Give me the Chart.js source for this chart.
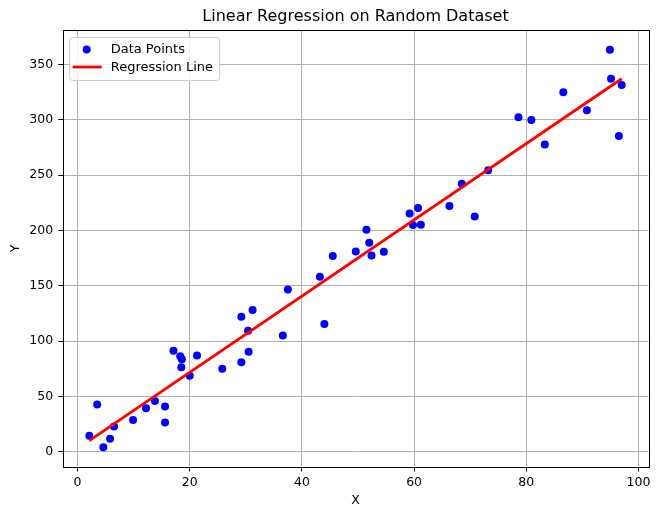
<!DOCTYPE html>
<html>
<head>
<meta charset="utf-8">
<script src="https://cdn.jsdelivr.net/npm/chart.js@4.4.1/dist/chart.umd.min.js"></script>
<style>
  html, body { margin: 0; padding: 0; background: #fff; }
  #wrap { width: 660px; height: 517px; }
</style>
</head>
<body>
<div id="wrap"><canvas id="chart"></canvas></div>
<script>
// values
const xs = [
  2.1, 3.5, 4.6, 5.8, 6.5, 9.9, 12.2, 13.8, 15.6, 15.6,
  17.1, 18.3, 18.6, 18.5, 20.0, 21.3, 25.8, 29.2, 30.5, 30.4,
  29.2, 31.2, 36.6, 37.5, 44.0, 43.2, 45.5, 49.6, 51.5, 52.0,
  52.4, 54.6, 59.2, 60.7, 59.8, 61.2, 66.3, 70.8, 68.5, 73.2,
  78.6, 80.9, 83.3, 86.6, 90.8, 94.9, 95.1, 97.0, 96.5,
];
const ys = [
  14.5, 42.8, 4.3, 11.8, 22.9, 28.9, 39.5, 46.1, 41.0, 26.5,
  91.3, 86.4, 83.7, 76.4, 68.7, 87.1, 75.1, 81.1, 90.4, 109.4,
  122.1, 128.2, 105.2, 146.8, 115.5, 158.3, 177.0, 181.2, 200.8, 189.0,
  177.5, 180.9, 215.5, 220.4, 205.0, 205.3, 222.2, 212.8, 242.4, 254.4,
  302.3, 300.0, 277.7, 325.0, 308.7, 363.3, 337.1, 331.6, 285.5,
];
const xTickStep = 20;
const yTickStep = 50;
const seriesLabels = ['Data Points', 'Regression Line'];
const chartTitle = 'Linear Regression on Random Dataset';

const points = xs.map((x, i) => ({ x: x, y: ys[i] }));

// least squares fit, drawn from min x to max x
const n = xs.length;
const mx = xs.reduce((a, b) => a + b, 0) / n;
const my = ys.reduce((a, b) => a + b, 0) / n;
let sxy = 0, sxx = 0;
for (let i = 0; i < n; i++) {
  sxy += (xs[i] - mx) * (ys[i] - my);
  sxx += (xs[i] - mx) * (xs[i] - mx);
}
const slope = sxy / sxx;
const icpt = my - slope * mx;
const xLo = Math.min(...xs), xHi = Math.max(...xs);
const fitLine = [xLo, xHi].map((x) => ({ x: x, y: icpt + slope * x }));

// matplotlib style 5% margins
const yLo = Math.min(...ys), yHi = Math.max(...ys);
const padX = (xHi - xLo) * 0.05, padY = (yHi - yLo) * 0.05;

const FONT = 'DejaVu Sans';

const framePlugin = {
  id: 'frame',
  beforeDatasetsDraw(chart) {
    const { ctx, chartArea: a } = chart;
    ctx.save();
    ctx.strokeStyle = '#000';
    ctx.lineWidth = 1;
    ctx.strokeRect(Math.round(a.left) + 0.5, Math.round(a.top) + 0.5,
      Math.round(a.right - a.left), Math.round(a.bottom - a.top));
    ctx.restore();
  },
};

const legendPlugin = {
  id: 'boxLegend',
  afterDatasetsDraw(chart) {
    const { ctx, chartArea: a } = chart;
    const x0 = a.left + 6.5, y0 = a.top + 7;
    const w = 150, h = 43;
    ctx.save();
    ctx.beginPath();
    ctx.roundRect(x0 + 0.5, y0 + 0.5, w, h, 3);
    ctx.fillStyle = 'rgba(255,255,255,0.8)';
    ctx.fill();
    ctx.strokeStyle = '#cccccc';
    ctx.lineWidth = 1;
    ctx.stroke();

    ctx.fillStyle = '#0000ff';
    ctx.beginPath();
    ctx.arc(x0 + 17.5, y0 + 12.5, 4, 0, Math.PI * 2);
    ctx.fill();

    ctx.strokeStyle = '#ff0000';
    ctx.lineWidth = 2.8;
    ctx.beginPath();
    ctx.moveTo(x0 + 3.5, y0 + 30);
    ctx.lineTo(x0 + 32.5, y0 + 30);
    ctx.stroke();

    ctx.fillStyle = '#000';
    ctx.font = '13px "' + FONT + '"';
    ctx.textBaseline = 'middle';
    ctx.fillText(seriesLabels[0], x0 + 41.5, y0 + 12.5);
    ctx.fillText(seriesLabels[1], x0 + 41.5, y0 + 30.5);
    ctx.restore();
  },
};

new Chart(document.getElementById('chart'), {
  type: 'scatter',
  data: {
    datasets: [
      {
        label: seriesLabels[0],
        data: points,
        backgroundColor: '#0000ff',
        borderColor: '#0000ff',
        borderWidth: 0,
        pointRadius: 4,
        order: 2,
      },
      {
        type: 'line',
        label: seriesLabels[1],
        data: fitLine,
        borderColor: '#ff0000',
        borderWidth: 2.8,
        pointRadius: 0,
        fill: false,
        order: 1,
      },
    ],
  },
  options: {
    responsive: true,
    maintainAspectRatio: false,
    animation: false,
    layout: { padding: { left: 0, right: 11.7, top: 0, bottom: 0 } },
    plugins: {
      legend: { display: false },
      tooltip: { enabled: false },
      title: {
        display: true,
        text: chartTitle,
        fullSize: false,
        color: '#000',
        font: { family: FONT, size: 16, weight: 'normal' },
        padding: { top: 7.5, bottom: 3.3 },
      },
    },
    scales: {
      x: {
        type: 'linear',
        min: xLo - padX,
        max: xHi + padX,
        afterFit: (s) => { s.height = 50; },
        ticks: {
          stepSize: xTickStep,
          includeBounds: false,
          color: '#000',
          padding: 4,
          maxRotation: 0,
          font: { family: FONT, size: 12.5 },
        },
        grid: { color: '#b0b0b0', lineWidth: 1, tickLength: 4.5, tickColor: '#000' },
        border: { display: false },
        title: {
          display: true,
          text: 'X',
          color: '#000',
          font: { family: FONT, size: 12.5 },
          padding: { top: 4, bottom: 9 },
        },
      },
      y: {
        type: 'linear',
        min: yLo - padY,
        max: yHi + padY,
        afterFit: (s) => { s.width = 62.7; },
        ticks: {
          stepSize: yTickStep,
          includeBounds: false,
          color: '#000',
          padding: 5,
          font: { family: FONT, size: 12.5 },
        },
        grid: { color: '#b0b0b0', lineWidth: 1, tickLength: 4.5, tickColor: '#000' },
        border: { display: false },
        title: {
          display: true,
          text: 'Y',
          color: '#000',
          font: { family: FONT, size: 12.5 },
          padding: { top: 8, bottom: 4 },
        },
      },
    },
  },
  plugins: [framePlugin, legendPlugin],
});
</script>
</body>
</html>
